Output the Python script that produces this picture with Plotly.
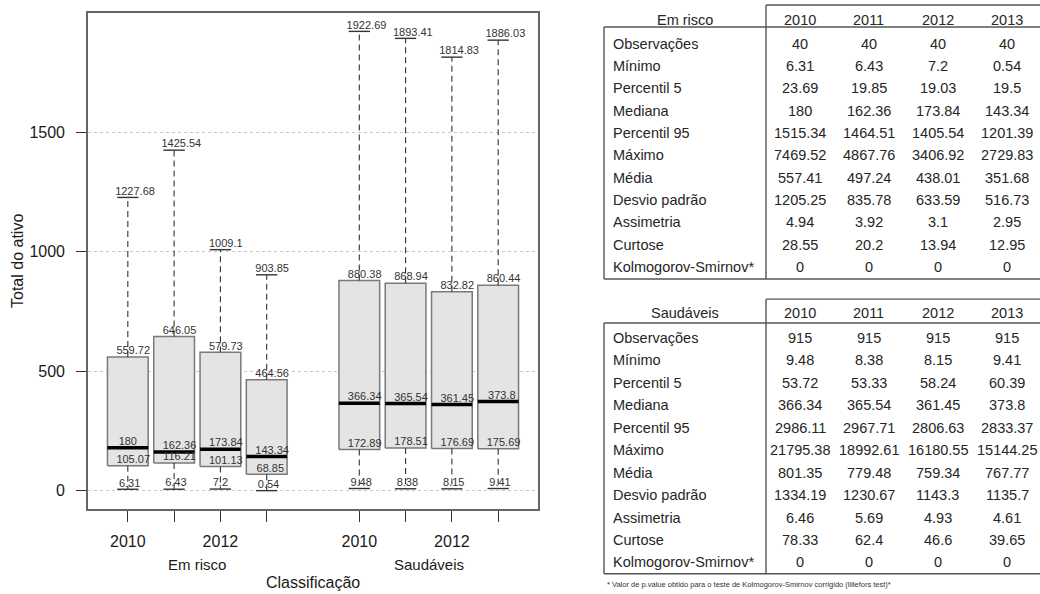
import plotly.graph_objects as go

# ---------------- data ----------------
years = ['2010', '2011', '2012', '2013']
groups = ['Em risco', 'Saudáveis']

risco_upper = [1227.68, 1425.54, 1009.1, 903.85]
risco_q3 = [559.72, 646.05, 579.73, 464.56]
risco_median = [180, 162.36, 173.84, 143.34]
risco_q1 = [105.07, 116.21, 101.13, 68.85]
risco_lower = [6.31, 6.43, 7.2, 0.54]

saud_upper = [1922.69, 1893.41, 1814.83, 1886.03]
saud_q3 = [880.38, 868.94, 832.82, 860.44]
saud_median = [366.34, 365.54, 361.45, 373.8]
saud_q1 = [172.89, 178.51, 176.69, 175.69]
saud_lower = [9.48, 8.38, 8.15, 9.41]

positions = [1, 2, 3, 4, 6, 7, 8, 9]
y_ticks = [0, 500, 1000, 1500]

stat_names = ['Observações', 'Mínimo', 'Percentil 5', 'Mediana', 'Percentil 95', 'Máximo',
              'Média', 'Desvio padrão', 'Assimetria', 'Curtose', 'Kolmogorov-Smirnov*']

risco_obs = [40, 40, 40, 40]
risco_min = [6.31, 6.43, 7.2, 0.54]
risco_p5 = [23.69, 19.85, 19.03, 19.5]
risco_med = [180, 162.36, 173.84, 143.34]
risco_p95 = [1515.34, 1464.51, 1405.54, 1201.39]
risco_max = [7469.52, 4867.76, 3406.92, 2729.83]
risco_mean = [557.41, 497.24, 438.01, 351.68]
risco_sd = [1205.25, 835.78, 633.59, 516.73]
risco_skew = [4.94, 3.92, 3.1, 2.95]
risco_kurt = [28.55, 20.2, 13.94, 12.95]
risco_ks = [0, 0, 0, 0]

saud_obs = [915, 915, 915, 915]
saud_min = [9.48, 8.38, 8.15, 9.41]
saud_p5 = [53.72, 53.33, 58.24, 60.39]
saud_med = [366.34, 365.54, 361.45, 373.8]
saud_p95 = [2986.11, 2967.71, 2806.63, 2833.37]
saud_max = [21795.38, 18992.61, 16180.55, 15144.25]
saud_mean = [801.35, 779.48, 759.34, 767.77]
saud_sd = [1334.19, 1230.67, 1143.3, 1135.7]
saud_skew = [6.46, 5.69, 4.93, 4.61]
saud_kurt = [78.33, 62.4, 46.6, 39.65]
saud_ks = [0, 0, 0, 0]

footnote = '* Valor de p.value obtido para o teste de Kolmogorov-Smirnov corrigido (lillefors test)*'


def fmt(v):
    return f"{v:.2f}".rstrip('0').rstrip('.')


# ---------------- layout constants ----------------
FONT = 'Liberation Sans, Arial, sans-serif'
W_FIG, H_FIG = 1040, 594
ML, MR, MT, MB = 88, 502, 11, 85
PW = W_FIG - ML - MR
PH = H_FIG - MT - MB
XR = [0.14, 9.86]
YR = [-76.3, 1999.6]
PX_PER_X = PW / (XR[1] - XR[0])


def xp(px):
    return (px - ML) / PW


def yp(py):
    return (H_FIG - MB - py) / PH


fig = go.Figure()

hw = 0.44
cw = 0.23
box_stats = list(zip(risco_lower + saud_lower, risco_q1 + saud_q1, risco_median + saud_median,
                     risco_q3 + saud_q3, risco_upper + saud_upper))

for p, (lo, q1, med, q3, up) in zip(positions, box_stats):
    # box
    fig.add_trace(go.Scatter(x=[p - hw, p + hw, p + hw, p - hw, p - hw], y=[q1, q1, q3, q3, q1],
                             mode='lines', fill='toself', fillcolor='#e4e4e4',
                             line=dict(color='#7a7a7a', width=1.5), hoverinfo='skip'))
    # whiskers
    fig.add_trace(go.Scatter(x=[p, p, None, p, p], y=[q3, up, None, q1, lo], mode='lines',
                             line=dict(color='#333333', width=1.1, dash='6px,4px'), hoverinfo='skip'))
    # caps
    fig.add_trace(go.Scatter(x=[p - cw, p + cw, None, p - cw, p + cw], y=[up, up, None, lo, lo],
                             mode='lines', line=dict(color='#333333', width=1.4), hoverinfo='skip'))
    # median
    fig.add_trace(go.Scatter(x=[p - hw, p + hw], y=[med, med], mode='lines',
                             line=dict(color='#000000', width=3.5), hoverinfo='skip'))
    # labels
    vals = [up, q3, med, q1, lo]
    labs = [fmt(v) for v in vals]
    xs = [p + 1.8 * (len(s) - 3) / PX_PER_X for s in labs]
    fig.add_trace(go.Scatter(x=xs, y=vals, mode='text', text=labs, textposition='top center',
                             textfont=dict(family=FONT, size=11, color='#333333'), hoverinfo='skip'))

tick_text = [y if i % 2 == 0 else '' for i, y in enumerate(years)] * 2

fig.update_layout(
    width=W_FIG, height=H_FIG,
    margin=dict(l=ML, r=MR, t=MT, b=MB),
    paper_bgcolor='white', plot_bgcolor='white',
    showlegend=False,
    font=dict(family=FONT, color='#1a1a1a'),
    xaxis=dict(range=XR, tickvals=positions, ticktext=tick_text, ticks='outside', ticklen=11,
               tickwidth=1.3, tickcolor='#333333', showgrid=False, zeroline=False,
               showline=True, mirror=True, linecolor='#666666', linewidth=1.6,
               tickfont=dict(size=16, family=FONT, color='#1a1a1a'), ticklabelstandoff=6),
    yaxis=dict(range=YR, tickvals=y_ticks, ticks='outside', ticklen=10, tickwidth=1.3,
               tickcolor='#333333', showgrid=True, gridcolor='#c8c8c8', griddash='dot', gridwidth=1,
               zeroline=False, showline=True, mirror=True, linecolor='#666666', linewidth=1.6,
               tickfont=dict(size=16, family=FONT, color='#1a1a1a'), ticklabelstandoff=8),
)

ann = []
# group labels
for g, gx in zip(groups, [2.5, 7.5]):
    ann.append(dict(x=gx, y=yp(565), xref='x', yref='paper', text=g, showarrow=False,
                    xanchor='center', yanchor='middle', font=dict(size=15, family=FONT, color='#1a1a1a')))
ann.append(dict(x=0.5, y=yp(583), xref='paper', yref='paper', text='Classificação', showarrow=False,
                xanchor='center', yanchor='middle', font=dict(size=16, family=FONT, color='#1a1a1a')))
ann.append(dict(x=xp(17), y=yp(260), xref='paper', yref='paper', text='Total do ativo', showarrow=False,
                textangle=-90, xanchor='center', yanchor='middle',
                font=dict(size=16, family=FONT, color='#1a1a1a')))

# ---------------- tables ----------------
col_x = [800, 868.5, 937.5, 1007]
label_x = 611
sep_x = 766
left_x = 604
right_x = 1042

risco_rows = [risco_obs, risco_min, risco_p5, risco_med, risco_p95, risco_max, risco_mean,
              risco_sd, risco_skew, risco_kurt, risco_ks]
saud_rows = [saud_obs, saud_min, saud_p5, saud_med, saud_p95, saud_max, saud_mean,
             saud_sd, saud_skew, saud_kurt, saud_ks]

tables = [
    dict(title=groups[0], rows=risco_rows, top=3, head_y=18, head_bot=25, row0=42, step=22.4, bot=278),
    dict(title=groups[1], rows=saud_rows, top=298.3, head_y=312.7, head_bot=322.3, row0=337.3, step=22.54, bot=574),
]

shapes = []
LC = '#555555'
TF = dict(size=14.5, family=FONT, color='#262626')


def line(x0, y0, x1, y1):
    shapes.append(dict(type='line', xref='paper', yref='paper', x0=xp(x0), y0=yp(y0), x1=xp(x1), y1=yp(y1),
                       line=dict(color=LC, width=1.4)))


for t in tables:
    line(sep_x, t['top'], right_x, t['top'])
    line(sep_x, t['top'], sep_x, t['bot'])
    line(left_x, t['head_bot'], right_x, t['head_bot'])
    line(left_x, t['head_bot'], left_x, t['bot'])
    line(left_x, t['bot'], right_x, t['bot'])
    ann.append(dict(x=xp((left_x + sep_x) / 2), y=yp(t['head_y']), xref='paper', yref='paper',
                    text=t['title'], showarrow=False, xanchor='center', yanchor='middle', font=TF))
    for cx, yr in zip(col_x, years):
        ann.append(dict(x=xp(cx), y=yp(t['head_y']), xref='paper', yref='paper', text=yr,
                        showarrow=False, xanchor='center', yanchor='middle', font=TF))
    for i, (name, vals) in enumerate(zip(stat_names, t['rows'])):
        ry = t['row0'] + i * t['step']
        ann.append(dict(x=xp(label_x), y=yp(ry), xref='paper', yref='paper', text=name,
                        showarrow=False, xanchor='left', yanchor='middle', font=TF))
        for cx, v in zip(col_x, vals):
            ann.append(dict(x=xp(cx), y=yp(ry), xref='paper', yref='paper', text=fmt(v),
                            showarrow=False, xanchor='center', yanchor='middle', font=TF))

ann.append(dict(x=xp(605), y=yp(585), xref='paper', yref='paper', text=footnote, showarrow=False,
                xanchor='left', yanchor='middle', font=dict(size=7.5, family=FONT, color='#333333')))

fig.update_layout(annotations=ann, shapes=shapes)
fig.write_html('out.html', config={'displayModeBar': False},
               post_script="document.body.style.margin='0';document.body.style.overflow='hidden';")
